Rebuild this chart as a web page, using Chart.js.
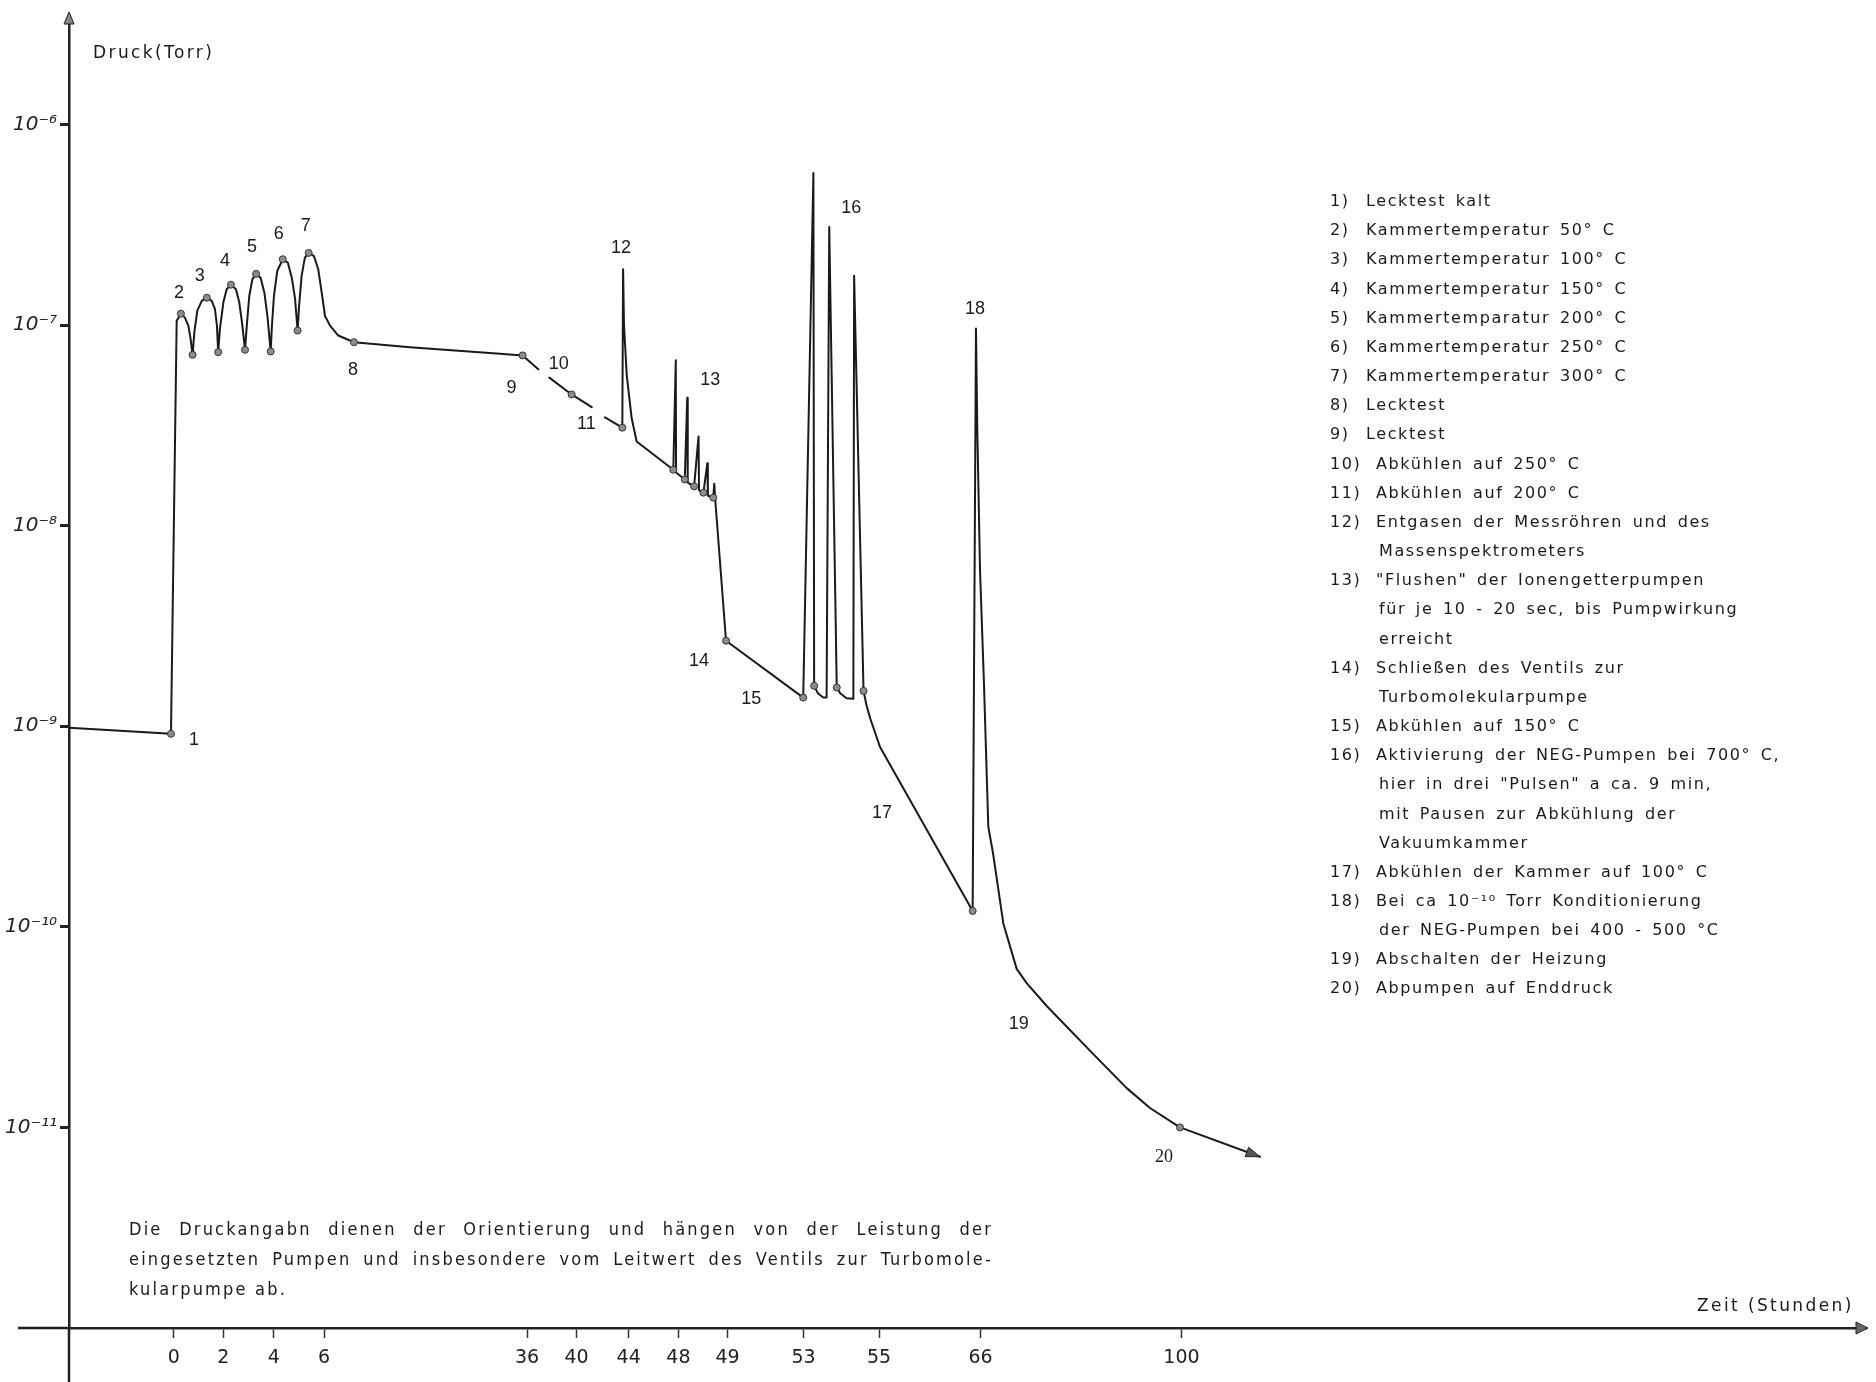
<!DOCTYPE html>
<html><head><meta charset="utf-8">
<script src="https://cdn.jsdelivr.net/npm/chart.js@4/dist/chart.umd.min.js"></script>
<style>html,body{margin:0;padding:0;background:#fff;}#wrap{width:1876px;height:1382px;position:relative;}</style>
</head><body><div id="wrap"><canvas id="c"></canvas></div>
<script>
// ---------------- data ----------------
const tickHours  = [0, 2, 4, 6, 36, 40, 44, 48, 49, 53, 55, 66, 100];
const tickLabels = ['0','2','4','6','36','40','44','48','49','53','55','66','100'];
const decadeExponents = [-6, -7, -8, -9, -10, -11];

// time in hours (hand-drawn axis), pressure in Torr; null = pen lifted
const hours = [
  -4.21, -0.11, 0.12, 0.29, 0.45, 0.59, 0.68, 0.76,
  0.83, 0.95, 1.13, 1.33, 1.53, 1.66, 1.74, 1.79,
  1.86, 2.00, 2.13, 2.30, 2.50, 2.63, 2.74, 2.86,
  2.93, 3.03, 3.15, 3.30, 3.48, 3.63, 3.75, 3.88,
  3.93, 4.01, 4.14, 4.36, 4.56, 4.72, 4.85, 4.95,
  5.01, 5.11, 5.24, 5.39, 5.60, 5.77, 5.91, 6.15, 6.89, 8.11, 10.43,
  18.7, 32.0, 35.35, 36.91, 37.3, 37.80, 39.60, 41.16, 41.7, 42.18, 43.51,
  43.57, 43.64, 43.85, 44.24, 44.64,
  47.59, 47.79, 47.81, 48.13, 48.18, 48.19, 48.32, 48.41, 48.42, 48.51, 48.59, 48.60, 48.71, 48.73, 48.75,
  48.97, 52.98,
  53.26, 53.28, 53.38, 53.52, 53.61, 53.68, 53.88, 53.97, 54.14, 54.32, 54.34, 54.59, 54.67, 54.77, 55.11,
  65.15, 65.51, 65.65, 65.95, 66.59, 67.32, 68.17, 69.86, 72.12, 73.81, 77.20, 85.08, 90.73, 94.67, 99.74, 113.28
];
const pressure = [
  9.82e-10, 9.17e-10, 1.05e-7, 1.14e-7, 1.09e-7, 9.94e-8, 8.54e-8, 7.11e-8,
  9.21e-8, 1.18e-7, 1.32e-7, 1.37e-7, 1.32e-7, 1.20e-7, 9.94e-8, 7.33e-8,
  9.57e-8, 1.30e-7, 1.51e-7, 1.59e-7, 1.51e-7, 1.30e-7, 1.03e-7, 7.53e-8,
  9.94e-8, 1.40e-7, 1.69e-7, 1.80e-7, 1.72e-7, 1.45e-7, 1.11e-7, 7.39e-8,
  9.94e-8, 1.40e-7, 1.86e-7, 2.13e-7, 2.05e-7, 1.72e-7, 1.35e-7, 9.39e-8,
  1.25e-7, 1.76e-7, 2.17e-7, 2.29e-7, 2.21e-7, 1.90e-7, 1.45e-7, 1.11e-7, 9.94e-8, 8.87e-8, 8.21e-8,
  7.76e-8, 7.20e-8, 7.06e-8, 6.02e-8, null, 5.47e-8, 4.51e-8, 3.90e-8, null, 3.47e-8, 3.08e-8,
  1.90e-7, 9.94e-8, 5.62e-8, 3.43e-8, 2.63e-8,
  1.90e-8, 6.67e-8, 1.84e-8, 1.70e-8, 4.34e-8, 1.64e-8, 1.57e-8, 2.78e-8, 1.50e-8, 1.46e-8, 2.05e-8, 1.41e-8, 1.38e-8, 1.62e-8, 1.35e-8,
  2.67e-9, 1.39e-9,
  5.73e-7, 1.59e-9, 1.46e-9, 1.39e-9, 1.39e-9, 3.08e-7, 1.56e-9, 1.46e-9, 1.38e-9, 1.37e-9, 1.76e-7, 1.50e-9, 1.27e-9, 1.09e-9, 7.88e-10,
  1.20e-10, 9.61e-8, 3.07e-8, 5.98e-9, 1.62e-9, 3.16e-10, 2.28e-10, 1.04e-10, 6.17e-11, 5.24e-11, 4.03e-11, 2.32e-11, 1.57e-11, 1.25e-11, 1.00e-11, 7.14e-12
];
const markerHours = [-0.11, 0.29, 0.76, 1.33, 1.79, 2.30, 2.86, 3.30, 3.88, 4.36, 4.95, 5.39, 10.43,
  35.35, 39.60, 43.51, 47.59, 48.13, 48.32, 48.51, 48.71, 48.97, 52.98, 53.28, 53.88, 54.59, 65.15, 99.74];

const stepLabels      = ['1','2','3','4','5','6','7','8','9','10','11','12','13','14','15','16','17','18','19','20'];
const stepAnchorHours = [-0.11,0.29,1.33,2.30,3.30,4.36,5.39,10.43,35.35,39.60,43.51,43.57,48.18,48.97,52.98,53.68,55.11,65.51,72.12,99.74];

const legendItems = [
  ['1)',  ['Lecktest kalt']],
  ['2)',  ['Kammertemperatur 50° C']],
  ['3)',  ['Kammertemperatur 100° C']],
  ['4)',  ['Kammertemperatur 150° C']],
  ['5)',  ['Kammertemparatur 200° C']],
  ['6)',  ['Kammertemperatur 250° C']],
  ['7)',  ['Kammertemperatur 300° C']],
  ['8)',  ['Lecktest']],
  ['9)',  ['Lecktest']],
  ['10)', ['Abkühlen auf 250° C']],
  ['11)', ['Abkühlen auf 200° C']],
  ['12)', ['Entgasen der Messröhren und des', 'Massenspektrometers']],
  ['13)', ['"Flushen" der Ionengetterpumpen', 'für je 10 - 20 sec, bis Pumpwirkung', 'erreicht']],
  ['14)', ['Schließen des Ventils zur', 'Turbomolekularpumpe']],
  ['15)', ['Abkühlen auf 150° C']],
  ['16)', ['Aktivierung der NEG-Pumpen bei 700° C,', 'hier in drei "Pulsen" a ca. 9 min,', 'mit Pausen zur Abkühlung der', 'Vakuumkammer']],
  ['17)', ['Abkühlen der Kammer auf 100° C']],
  ['18)', ['Bei ca 10⁻¹⁰ Torr Konditionierung', 'der NEG-Pumpen bei 400 - 500 °C']],
  ['19)', ['Abschalten der Heizung']],
  ['20)', ['Abpumpen auf Enddruck']]
];
const noteLines = [
  'Die Druckangabn dienen der Orientierung und hängen von der Leistung der',
  'eingesetzten Pumpen und insbesondere vom Leitwert des Ventils zur Turbomole-',
  'kularpumpe ab.'
];
const yAxisTitle = 'Druck(Torr)';
const xAxisTitle = 'Zeit (Stunden)';

// ---------------- hand-drawn (non-uniform) time axis ----------------
const axisStops = [104.7, 154.4, 204.7, 255, 458, 507.6, 559.7, 609.4, 658.5, 734.6, 810, 911.5, 1112.5];
const axisLength = 1797;
function toAxis(h){
  const n = tickHours.length; let i;
  if (h <= tickHours[0]) i = 0;
  else if (h >= tickHours[n-1]) i = n-2;
  else { i = 0; while (h > tickHours[i+1]) i++; }
  const h0 = tickHours[i], h1 = tickHours[i+1], p0 = axisStops[i], p1 = axisStops[i+1];
  return p0 + (h - h0) * (p1 - p0) / (h1 - h0);
}
const SUP = {'-':'⁻','0':'⁰','1':'¹','2':'²','3':'³','4':'⁴','5':'⁵','6':'⁶','7':'⁷','8':'⁸','9':'⁹'};
function supLabel(v){ const e = Math.round(Math.log10(v)); return '10' + String(e).split('').map(c => SUP[c]).join(''); }

const markerSet = new Set(markerHours);
const lineData = hours.map((h, i) => ({x: toAxis(h), y: pressure[i]}));

const labelOffsets = [[23,6],[-2,-21],[-7,-22],[-6,-24],[-4,-27],[-4,-25],[-3,-27],[-1,28],[-11,33],[-13,-30],
  [-36,-4],[-2,-21],[23,-18],[-27,20],[-52,1],[22,-19],[2,66],[-1,-20],[2,55],[-16,30]];

function drawJustified(ctx, text, x0, x1, y){
  const words = text.split(' ');
  const ws = words.map(w => ctx.measureText(w).width);
  const total = ws.reduce((a, b) => a + b, 0);
  const gap = (x1 - x0 - total) / (words.length - 1);
  let x = x0;
  words.forEach((w, i) => { ctx.fillText(w, x, y); x += ws[i] + gap; });
}

const extras = {
  id: 'extras',
  afterDraw(chart){
    const ctx = chart.ctx, ca = chart.chartArea, xs = chart.scales.x, ys = chart.scales.y;
    ctx.save();
    ctx.strokeStyle = '#222'; ctx.fillStyle = '#222'; ctx.lineWidth = 2.5;
    // axis extensions
    ctx.beginPath(); ctx.moveTo(ca.left, ca.bottom); ctx.lineTo(ca.left, chart.height); ctx.stroke();
    ctx.beginPath(); ctx.moveTo(18, ca.bottom); ctx.lineTo(ca.left, ca.bottom); ctx.stroke();
    // axis arrowheads
    ctx.beginPath(); ctx.moveTo(ca.left - 5, ca.top + 9); ctx.lineTo(ca.left, ca.top - 3); ctx.lineTo(ca.left + 5, ca.top + 9); ctx.closePath();
    ctx.fillStyle = '#888'; ctx.fill(); ctx.lineWidth = 1; ctx.stroke();
    ctx.beginPath(); ctx.moveTo(ca.right - 10, ca.bottom - 6); ctx.lineTo(ca.right + 2, ca.bottom); ctx.lineTo(ca.right - 10, ca.bottom + 6); ctx.closePath();
    ctx.fillStyle = '#666'; ctx.fill(); ctx.stroke();
    // curve end arrow
    const n = hours.length;
    const xA = xs.getPixelForValue(toAxis(hours[n-2])), yA = ys.getPixelForValue(pressure[n-2]);
    const xB = xs.getPixelForValue(toAxis(hours[n-1])), yB = ys.getPixelForValue(pressure[n-1]);
    const ang = Math.atan2(yB - yA, xB - xA);
    ctx.beginPath();
    ctx.moveTo(xB, yB);
    ctx.lineTo(xB - 14*Math.cos(ang) + 5*Math.sin(ang), yB - 14*Math.sin(ang) - 5*Math.cos(ang));
    ctx.lineTo(xB - 14*Math.cos(ang) - 5*Math.sin(ang), yB - 14*Math.sin(ang) + 5*Math.cos(ang));
    ctx.closePath(); ctx.fillStyle = '#555'; ctx.fill(); ctx.stroke();

    // step numbers
    ctx.fillStyle = '#1a1a1a'; ctx.textAlign = 'center'; ctx.textBaseline = 'middle';
    stepLabels.forEach((t, k) => {
      const i = hours.indexOf(stepAnchorHours[k]);
      const px = xs.getPixelForValue(toAxis(hours[i])), py = ys.getPixelForValue(pressure[i]);
      ctx.font = (t === '20' ? '18px "Liberation Serif"' : '18px "Liberation Sans"');
      ctx.fillText(t, px + labelOffsets[k][0], py + labelOffsets[k][1]);
    });

    // axis titles
    ctx.textAlign = 'left';
    ctx.font = '17px "DejaVu Sans"';
    ctx.letterSpacing = '2.4px';
    ctx.fillText(yAxisTitle, 93, 54);
    ctx.fillText(xAxisTitle, 1697, 1307);

    // legend
    ctx.font = '16px "DejaVu Sans"';
    ctx.letterSpacing = '1.6px';
    try { ctx.wordSpacing = '3px'; } catch(e) {}
    let line = 0;
    legendItems.forEach(([num, lines]) => {
      lines.forEach((txt, j) => {
        const y = 202 + line * 29.16;
        if (j === 0) {
          ctx.fillText(num, 1330, y);
          ctx.fillText(txt, num.length > 2 ? 1376 : 1366, y);
        } else {
          ctx.fillText(txt, 1379, y);
        }
        line++;
      });
    });

    // note
    try { ctx.wordSpacing = '0px'; } catch(e) {}
    ctx.font = '18px "DejaVu Sans Condensed", "Liberation Sans Narrow", "DejaVu Sans"';
    ctx.letterSpacing = '0px';
    const w0 = ctx.measureText(noteLines[2]).width;
    const ls = Math.max(0, (158 - w0) / noteLines[2].length);
    ctx.letterSpacing = ls.toFixed(2) + 'px';
    drawJustified(ctx, noteLines[0], 129, 993, 1230);
    drawJustified(ctx, noteLines[1], 129, 993, 1260);
    ctx.fillText(noteLines[2], 129, 1290);
    ctx.restore();
  }
};

new Chart(document.getElementById('c'), {
  type: 'line',
  data: { datasets: [{
    data: lineData,
    borderColor: '#1a1a1a', borderWidth: 2, tension: 0, spanGaps: false, fill: false,
    borderJoinStyle: 'round', borderCapStyle: 'round',
    pointRadius: c => markerSet.has(hours[c.dataIndex]) ? 3.5 : 0,
    pointHoverRadius: 0,
    pointBackgroundColor: '#8c8c8c', pointBorderColor: '#333', pointBorderWidth: 1
  }]},
  options: {
    responsive: true, maintainAspectRatio: false, animation: false,
    layout: { padding: { top: 6, right: 10, left: 0, bottom: 0 } },
    plugins: { legend: { display: false }, tooltip: { enabled: false } },
    scales: {
      x: {
        type: 'linear', min: 0, max: axisLength,
        afterBuildTicks: s => { s.ticks = tickHours.map(h => ({ value: toAxis(h) })); },
        afterFit: s => { s.height = 54; },
        ticks: { autoSkip: false, maxRotation: 0, padding: 9, color: '#222',
                 font: { family: 'DejaVu Sans', size: 19 }, callback: (v, i) => tickLabels[i] },
        grid: { drawOnChartArea: false, drawTicks: true, tickLength: 10, tickColor: '#333', tickWidth: 1.5 },
        border: { display: true, color: '#222', width: 2.5 }
      },
      y: {
        type: 'logarithmic', min: 1e-12, max: Math.pow(10, -5.454),
        afterBuildTicks: s => { s.ticks = decadeExponents.map(e => ({ value: Math.pow(10, e) })); },
        afterFit: s => { s.width = 69; },
        ticks: { autoSkip: false, padding: 3, color: '#222',
                 font: { family: 'DejaVu Sans', size: 20, style: 'italic' }, callback: v => supLabel(v) },
        grid: { drawOnChartArea: false, drawTicks: true, tickLength: 9, tickColor: '#222', tickWidth: 3 },
        border: { display: true, color: '#222', width: 2.5 }
      }
    }
  },
  plugins: [extras]
});
</script></body></html>
